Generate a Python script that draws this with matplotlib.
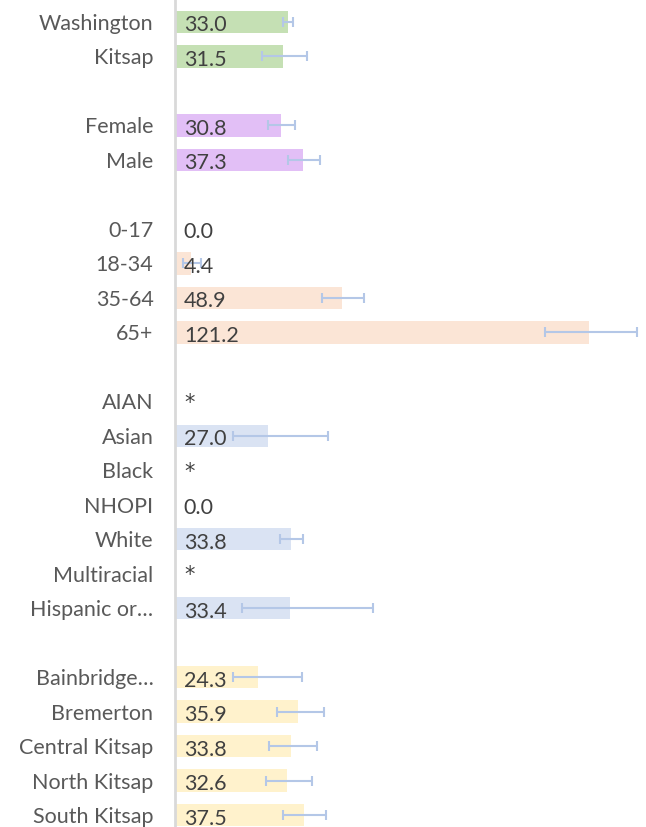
import matplotlib.pyplot as plt
from matplotlib import transforms

# rate per 100,000 with 95% confidence limits; None = suppressed (*)
labels = ['Washington', 'Kitsap', '',
          'Female', 'Male', '',
          '0-17', '18-34', '35-64', '65+', '',
          'AIAN', 'Asian', 'Black', 'NHOPI', 'White', 'Multiracial', 'Hispanic or…', '',
          'Bainbridge…', 'Bremerton', 'Central Kitsap', 'North Kitsap', 'South Kitsap']
rates = [33.0, 31.5, None,
         30.8, 37.3, None,
         0.0, 4.4, 48.9, 121.2, None,
         None, 27.0, None, 0.0, 33.8, None, 33.4, None,
         24.3, 35.9, 33.8, 32.6, 37.5]
lower = [31.6, 25.4, None,
         27.0, 32.9, None,
         0.0, 2.1, 42.9, 108.2, None,
         None, 16.7, None, 0.0, 30.6, None, 19.4, None,
         16.7, 29.7, 27.4, 26.5, 31.6]
upper = [34.3, 38.6, None,
         35.1, 42.2, None,
         0.0, 7.4, 55.3, 135.1, None,
         None, 44.8, None, 0.0, 37.3, None, 57.9, None,
         37.1, 43.4, 41.4, 40.0, 44.1]
groups = ['state', 'state', None,
          'sex', 'sex', None,
          'age', 'age', 'age', 'age', None,
          'race', 'race', 'race', 'race', 'race', 'race', 'race', None,
          'area', 'area', 'area', 'area', 'area']
suppressed = ['AIAN', 'Black', 'Multiracial']

group_colors = {'state': '#c5e0b4', 'sex': '#e2bff6', 'age': '#fbe5d6',
                'race': '#dae3f3', 'area': '#fff2cc'}
err_color = '#b4c7e7'

plt.rcParams['font.family'] = ['Lato', 'DejaVu Sans']

fig = plt.figure(figsize=(6.46, 8.27), dpi=100)
left = 175.5 / 646
ax = fig.add_axes([left, 0, 1 - left, 1])

px_per_row = 34.48
top_row = 22
ax.set_ylim((827 - top_row) / px_per_row, -top_row / px_per_row)
ax.set_xlim(0, (646 - 175.5) / 3.414)

# category names sit 22 px left of the axis line
label_tf = ax.get_yaxis_transform() + transforms.ScaledTranslation(-22 / 100, -2 / 100, fig.dpi_scale_trans)

for i, (lab, r) in enumerate(zip(labels, rates)):
    if lab == '':
        continue
    ax.text(0, i, lab, transform=label_tf, ha='right', va='center',
            fontsize=15.5, color='#595959')
    if lab in suppressed:
        ax.annotate('*', (0, i), xytext=(6.5, -1), textcoords='offset points',
                    ha='left', va='center', fontsize=15, color='#404040',
                    family='DejaVu Sans')
        continue
    ax.barh(i, r, height=0.65, color=group_colors[groups[i]], zorder=1)
    ax.errorbar(r, i, xerr=[[r - lower[i]], [upper[i] - r]], fmt='none',
                ecolor=err_color, elinewidth=1.5, capsize=3.6, capthick=1.5, zorder=2)
    ax.annotate(f'{r:.1f}', (0, i), xytext=(6, -2.5), textcoords='offset points',
                ha='left', va='center', fontsize=15.5, color='#404040', zorder=3)

ax.set_xticks([])
ax.set_yticks([])
for s in ['top', 'right', 'bottom']:
    ax.spines[s].set_visible(False)
ax.spines['left'].set_color('#d9d9d9')
ax.spines['left'].set_linewidth(2)
ax.patch.set_alpha(0)

fig.savefig('out.png', dpi=100, facecolor='white')
